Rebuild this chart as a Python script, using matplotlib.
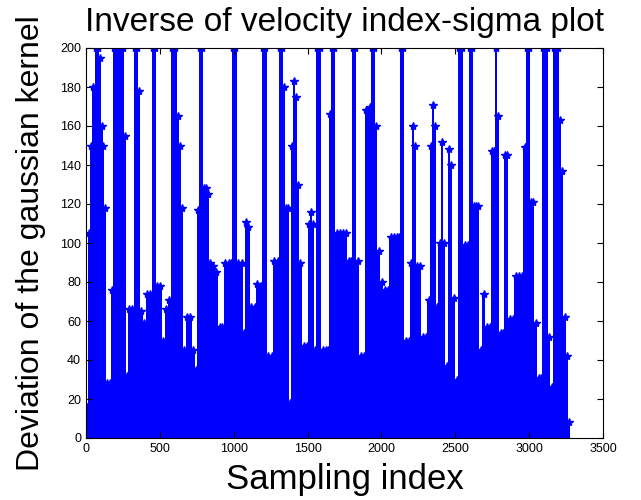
import matplotlib
matplotlib.use('Agg')
import matplotlib.pyplot as plt
import numpy as np

# sampling index / top of the sigma trace
sample_idx = [0, 14, 27, 41, 61, 74, 88, 102, 115, 122, 135, 156, 169, 183, 203, 223, 244,
              257, 271, 284, 305, 325, 339, 352, 366, 386, 406, 427, 447, 460, 474, 494, 515,
              535, 555, 575, 596, 616, 630, 643, 657, 677, 697, 718, 738, 751, 765, 779, 792,
              806, 819, 833, 853, 873, 894, 914, 934, 955, 975, 988, 1002, 1022, 1043, 1063,
              1076, 1090, 1110, 1131, 1151, 1171, 1192, 1205, 1225, 1246, 1266, 1286, 1307,
              1320, 1334, 1347, 1361, 1374, 1388, 1401, 1415, 1428, 1442, 1462, 1483, 1503,
              1516, 1530, 1544, 1557, 1571, 1591, 1611, 1632, 1645, 1659, 1672, 1686, 1706,
              1726, 1747, 1767, 1787, 1801, 1814, 1828, 1848, 1869, 1889, 1902, 1916, 1929,
              1943, 1956, 1970, 1990, 2011, 2031, 2051, 2072, 2092, 2112, 2126, 2139, 2153,
              2173, 2193, 2207, 2221, 2234, 2248, 2268, 2288, 2309, 2329, 2342, 2356, 2370,
              2383, 2403, 2417, 2430, 2451, 2464, 2478, 2498, 2518, 2532, 2552, 2573, 2593,
              2606, 2620, 2634, 2647, 2661, 2681, 2701, 2722, 2742, 2755, 2769, 2782, 2796,
              2816, 2830, 2843, 2857, 2877, 2898, 2918, 2938, 2958, 2979, 2992, 3006, 3019,
              3033, 3053, 3074, 3087, 3101, 3114, 3128, 3141, 3162, 3175, 3189, 3202, 3216,
              3229, 3250, 3263, 3277]
sigma = [16, 105, 150, 180, 200, 200, 195, 160, 150, 118, 28, 28, 76, 200, 200, 200, 200,
         155, 32, 66, 66, 200, 200, 178, 65, 59, 74, 74, 200, 200, 78, 78, 50,
         66, 71, 200, 200, 165, 150, 118, 45, 62, 62, 45, 35, 117, 200, 200, 128,
         128, 125, 90, 88, 85, 57, 57, 90, 90, 90, 200, 200, 90, 90, 54,
         111, 108, 67, 67, 79, 78, 200, 200, 42, 42, 91, 91, 200,
         200, 180, 118, 118, 18, 150, 183, 175, 130, 90, 47, 47, 110,
         116, 110, 45, 200, 200, 45, 45, 45, 166, 200, 200, 105, 105,
         105, 105, 91, 91, 200, 200, 91, 42, 42, 168, 168, 170, 200,
         200, 160, 96, 80, 76, 76, 103, 103, 103, 103, 200, 200, 50,
         50, 90, 160, 150, 88, 88, 52, 52, 71, 150, 171, 160, 67,
         100, 152, 100, 37, 148, 140, 72, 30, 200, 200, 99, 99, 200,
         200, 119, 119, 119, 45, 74, 57, 57, 147, 147, 200, 165, 54,
         54, 145, 145, 61, 61, 83, 83, 83, 149, 200, 200, 121, 121,
         59, 31, 31, 200, 200, 200, 52, 26, 200, 200, 200, 163, 137,
         62, 42, 8, 5]

x_ticks = [0, 500, 1000, 1500, 2000, 2500, 3000, 3500]
y_ticks = [0, 20, 40, 60, 80, 100, 120, 140, 160, 180, 200]

plt.rcParams['font.family'] = ['Liberation Sans', 'DejaVu Sans']

fig = plt.figure(figsize=(6.41, 5.00), dpi=100)
ax = fig.add_axes([0.134, 0.124, 0.807, 0.780])

idx = np.array(sample_idx)
mid = (idx[:-1] + idx[1:]) / 2
ax.fill_between(sample_idx, sigma, step='post', color='b', lw=0)
ax.plot(mid, sigma[:-1], '*', color='b', ms=6, mew=1)

ax.set_xlim(0, 3500)
ax.set_ylim(0, 200)
ax.set_xticks(x_ticks)
ax.set_yticks(y_ticks)
ax.tick_params(direction='in', top=True, right=True, length=4, labelsize=9)
for lab in ax.get_xticklabels() + ax.get_yticklabels():
    lab.set_family(['Liberation Sans Narrow', 'Liberation Sans'])

ax.set_title('Inverse of velocity index-sigma plot', fontsize=24, pad=12)
ax.set_xlabel('Sampling index', fontsize=25, labelpad=6)
ax.set_ylabel('Deviation of the gaussian kernel', fontsize=23, labelpad=10)

fig.savefig('out.png', dpi=100)
